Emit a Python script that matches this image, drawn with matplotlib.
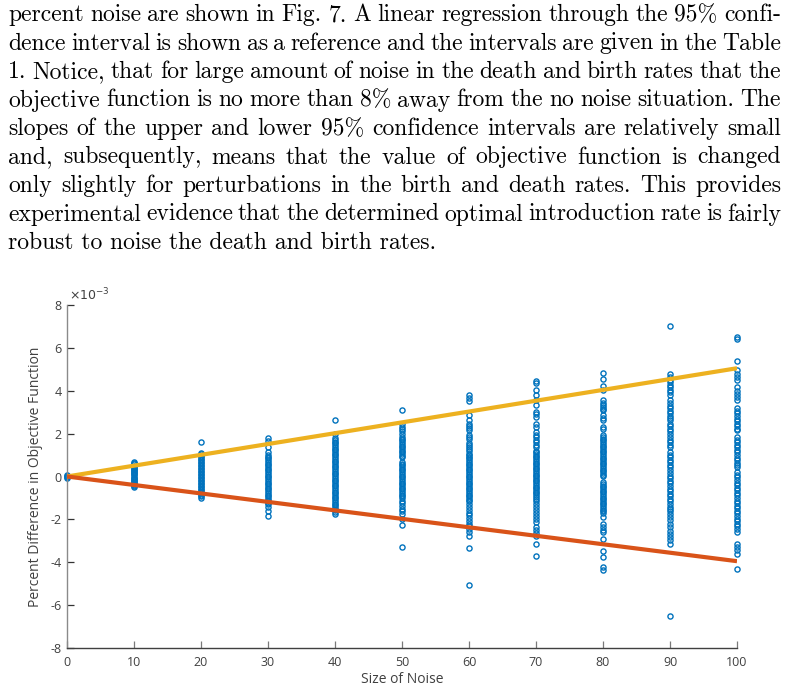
import numpy as np
import matplotlib
matplotlib.use('Agg')
import matplotlib.pyplot as plt

plt.rcParams['axes.unicode_minus'] = False

# Data (y values in units of 1e-3) -------------------------------------------

noise_levels = [0, 10, 20, 30, 40, 50, 60, 70, 80, 90, 100]

noise_0 = [0.06, 0.02, -0.02, -0.05]
noise_10 = [0.68, 0.62, 0.56, 0.5, 0.45, 0.4, 0.35, 0.3, 0.25, 0.2, 0.15, 0.1, 0.05, 0.0,
            -0.05, -0.1, -0.15, -0.2, -0.25, -0.3, -0.35, -0.4, -0.45, -0.5]
noise_20 = [1.62, 1.1, 1.03, 0.96, 0.89, 0.82, 0.75, 0.68, 0.61, 0.54, 0.47, 0.4, 0.33, 0.26,
            0.19, 0.12, 0.05, -0.02, -0.09, -0.16, -0.23, -0.3, -0.37, -0.44, -0.51, -0.58,
            -0.65, -0.72, -0.79, -0.86, -0.92, -0.98]
noise_30 = [1.8, 1.64, 1.38, 1.16, 1.0, 0.92, 0.84, 0.76, 0.68, 0.6, 0.52, 0.44, 0.36, 0.28,
            0.2, 0.12, 0.04, -0.04, -0.12, -0.2, -0.28, -0.36, -0.44, -0.52, -0.6, -0.68,
            -0.76, -0.84, -0.92, -1.0, -1.08, -1.16, -1.24, -1.3, -1.44, -1.62, -1.84]
noise_40 = [2.62, 2.0, 1.78, 1.7, 1.62, 1.54, 1.46, 1.38, 1.3, 1.22, 1.14, 1.06, 0.98, 0.9,
            0.82, 0.74, 0.66, 0.58, 0.5, 0.42, 0.34, 0.26, 0.18, 0.1, 0.02, -0.06, -0.14,
            -0.22, -0.3, -0.38, -0.46, -0.54, -0.62, -0.7, -0.78, -0.86, -0.94, -1.02,
            -1.1, -1.18, -1.26, -1.34, -1.42, -1.5, -1.58, -1.66, -1.74]
noise_50 = [3.1, 2.46, 2.3, 2.2, 2.1, 2.0, 1.84, 1.76, 1.68, 1.6, 1.52, 1.44, 1.36, 1.28,
            1.2, 1.12, 1.04, 0.96, 0.9, 0.67, 0.6, 0.52, 0.44, 0.36, 0.28, 0.2, 0.12, 0.04,
            -0.04, -0.12, -0.2, -0.28, -0.36, -0.44, -0.52, -0.6, -0.68, -0.76, -0.84,
            -0.92, -0.98, -1.12, -1.22, -1.36, -1.5, -1.6, -1.73, -1.96, -2.24, -3.3]
noise_60 = [3.82, 3.66, 3.5, 2.88, 2.65, 2.46, 2.36, 2.25, 2.15, 1.92, 1.84, 1.76, 1.54,
            1.45, 1.36, 1.28, 1.18, 1.07, 1.0, 0.92, 0.84, 0.76, 0.68, 0.6, 0.52, 0.44,
            0.36, 0.28, 0.2, 0.12, 0.04, -0.04, -0.12, -0.2, -0.28, -0.36, -0.44, -0.52,
            -0.6, -0.68, -0.76, -0.84, -0.92, -1.0, -1.08, -1.16, -1.26, -1.43, -1.55,
            -1.68, -1.8, -1.92, -2.06, -2.2, -2.33, -2.46, -2.6, -2.76, -3.35, -5.05]
noise_70 = [4.45, 4.38, 4.02, 3.79, 3.55, 3.32, 3.0, 2.9, 2.77, 2.46, 2.3, 2.07, 1.95,
            1.84, 1.72, 1.6, 1.48, 1.37, 1.21, 1.13, 1.05, 0.97, 0.89, 0.81, 0.73, 0.65,
            0.57, 0.49, 0.41, 0.33, 0.25, 0.17, 0.09, 0.01, -0.07, -0.15, -0.23, -0.31,
            -0.39, -0.47, -0.55, -0.63, -0.71, -0.79, -0.87, -0.95, -1.03, -1.12, -1.26,
            -1.4, -1.55, -1.7, -1.85, -2.0, -2.14, -2.37, -2.5, -2.63, -2.76, -3.15, -3.69]
noise_80 = [4.85, 4.53, 4.2, 4.02, 3.55, 3.45, 3.35, 3.25, 3.15, 3.08, 2.85, 2.74, 2.62,
            2.3, 2.23, 1.92, 1.84, 1.76, 1.68, 1.6, 1.52, 1.44, 1.36, 1.28, 1.2, 1.12,
            1.04, 0.96, 0.88, 0.8, 0.72, 0.64, 0.56, 0.48, 0.4, 0.32, 0.24, 0.16, 0.08,
            0.02, -0.26, -0.34, -0.42, -0.5, -0.58, -0.66, -0.74, -0.82, -0.9, -0.98,
            -1.06, -1.14, -1.22, -1.3, -1.38, -1.46, -1.54, -1.62, -1.7, -1.9, -2.2,
            -2.35, -2.48, -2.6, -2.91, -3.46, -3.74, -4.24, -4.36]
noise_90 = [7.0, 4.8, 4.64, 4.52, 4.4, 4.28, 4.16, 4.04, 3.92, 3.79, 3.55, 3.43, 3.31,
            3.19, 3.07, 2.95, 2.83, 2.72, 2.62, 2.46, 2.34, 2.22, 2.1, 2.0, 1.84, 1.72,
            1.6, 1.48, 1.37, 1.14, 1.02, 0.9, 0.78, 0.66, 0.54, 0.43, 0.28, 0.16, 0.04,
            -0.08, -0.2, -0.32, -0.44, -0.56, -0.68, -0.8, -0.92, -1.04, -1.16, -1.28,
            -1.4, -1.52, -1.63, -1.73, -1.9, -2.05, -2.2, -2.36, -2.52, -2.66, -2.82,
            -2.98, -3.13, -6.5]
noise_100 = [6.5, 6.4, 5.39, 4.95, 4.8, 4.64, 4.49, 4.17, 4.0, 3.85, 3.7, 3.55, 3.18,
             3.06, 2.94, 2.82, 2.7, 2.58, 2.46, 2.34, 2.22, 2.15, 1.84, 1.72, 1.6, 1.48,
             1.36, 1.24, 1.12, 1.0, 0.88, 0.76, 0.64, 0.52, 0.43, 0.2, 0.08, -0.04, -0.16,
             -0.28, -0.4, -0.52, -0.64, -0.76, -0.88, -1.0, -1.12, -1.24, -1.36, -1.48,
             -1.6, -1.72, -1.84, -1.96, -2.08, -2.2, -2.32, -2.44, -2.6, -3.15, -3.3,
             -3.45, -3.61, -4.33]

columns = [noise_0, noise_10, noise_20, noise_30, noise_40, noise_50,
           noise_60, noise_70, noise_80, noise_90, noise_100]

# 95% confidence interval regression lines
fit_x = [0, 100]
upper_ci = [0, 5.05]
lower_ci = [0, -3.95]

# Paragraph above the figure
paragraph = [
    'percent noise are shown in Fig. 7.  A linear regression through the 95% confi-',
    'dence interval is shown as a reference and the intervals are given in the Table',
    '1.  Notice, that for large amount of noise in the death and birth rates that the',
    'objective function is no more than 8% away from the no noise situation.  The',
    'slopes of the upper and lower 95% confidence intervals are relatively small',
    'and, subsequently, means that the value of objective function is changed',
    'only slightly for perturbations in the birth and death rates.  This provides',
    'experimental evidence that the determined optimal introduction rate is fairly',
    'robust to noise the death and birth rates.',
]

# Figure ---------------------------------------------------------------------

W, H = 788, 691
fig = plt.figure(figsize=(W / 100, H / 100), dpi=100)
renderer = fig.canvas.get_renderer()

# Justified text block
left_px, right_px = 8, 781
for i, line in enumerate(paragraph):
    y = 1 - (21 + 28.5 * i) / H
    if i == len(paragraph) - 1:
        fig.text(left_px / W, y, line, family='cmr10', fontsize=17, va='baseline')
        continue
    words = line.split()
    texts = [fig.text(0, y, w, family='cmr10', fontsize=17, va='baseline') for w in words]
    widths = [t.get_window_extent(renderer).width for t in texts]
    gap = (right_px - left_px - sum(widths)) / (len(words) - 1)
    x = left_px
    for t, wd in zip(texts, widths):
        t.set_x(x / W)
        x += wd + gap

# Chart
ax = fig.add_axes([67 / W, 1 - 648 / H, 670 / W, 343 / H])

blue = '#0072BD'
for lvl, vals in zip(noise_levels, columns):
    ax.plot([lvl] * len(vals), vals, 'o', mfc='none', mec=blue, ms=3.7, mew=1.0,
            clip_on=False, zorder=2)

ax.plot(fit_x, upper_ci, color='#EDB120', lw=3, zorder=3, solid_capstyle='butt')
ax.plot(fit_x, lower_ci, color='#D95319', lw=3, zorder=3, solid_capstyle='butt')

ax.set_xlim(0, 100)
ax.set_ylim(-8, 8)
ax.set_xticks(noise_levels)
ax.set_yticks([-8, -6, -4, -2, 0, 2, 4, 6, 8])

for side in ['top', 'right']:
    ax.spines[side].set_visible(False)
ax.spines['left'].set_color('#8a8a8a')
ax.spines['bottom'].set_color('#404040')
for side in ['left', 'bottom']:
    ax.spines[side].set_linewidth(1.0)

ax.tick_params(direction='in', length=5, width=0.9, labelcolor='#404040', labelsize=9)
ax.tick_params(axis='x', color='#7a7a7a', pad=6)
ax.tick_params(axis='y', color='#333333', pad=4)
for lab in ax.get_xticklabels() + ax.get_yticklabels():
    lab.set_family('Open Sans')

ax.set_xlabel('Size of Noise', family='Open Sans', fontsize=10, color='#404040', labelpad=2)
ax.set_ylabel('Percent Difference in Objective Function', family='Open Sans',
              fontsize=10, color='#404040', labelpad=5)
ax.text(0.003, 1.005, r'$\times10^{-3}$', transform=ax.transAxes, fontsize=9,
        color='#404040', va='bottom', ha='left', family='Open Sans')

fig.savefig('out.png', dpi=100)
